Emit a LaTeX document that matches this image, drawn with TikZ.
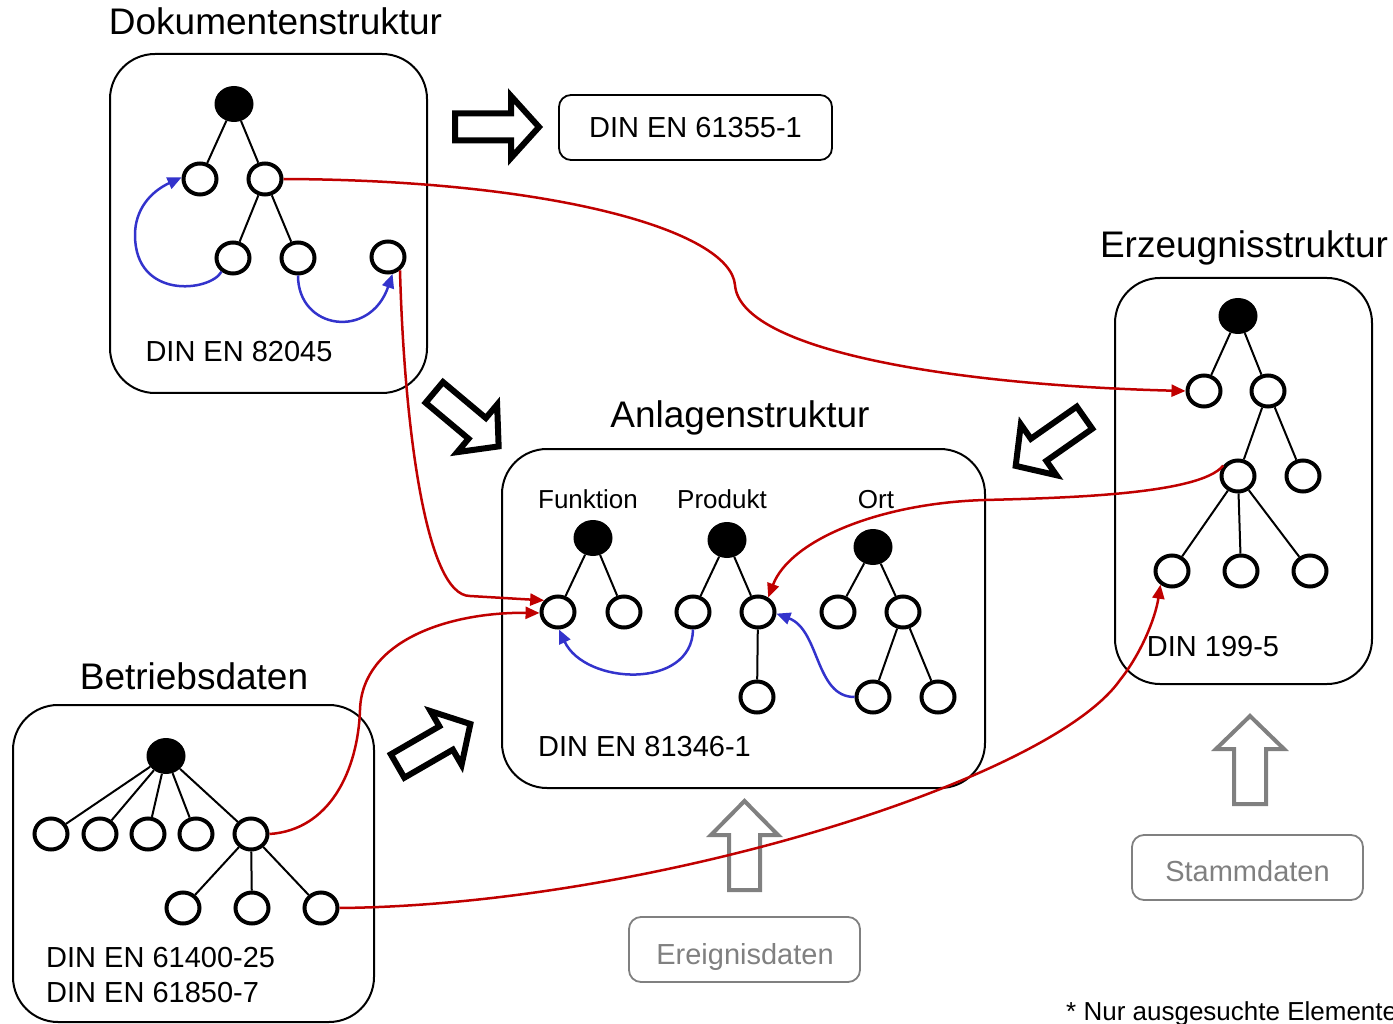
\documentclass[tikz,border=0pt]{standalone}
\usepackage{fontspec}
\setmainfont{Liberation Sans}
\usetikzlibrary{shapes.geometric,arrows.meta}
\definecolor{dred}{RGB}{192,0,0}
\definecolor{dblue}{RGB}{51,51,204}
\definecolor{lgray}{RGB}{128,128,128}
\tikzset{
 onode/.style={ellipse, draw=black, line width=4pt, fill=white, minimum width=33pt, minimum height=31pt, inner sep=0pt},
 fnode/.style={ellipse, fill=black, minimum width=39pt, minimum height=36pt, inner sep=0pt},
 tedge/.style={line width=2pt, black},
 bigbox/.style={draw=black, line width=2pt, rounded corners=45pt, inner sep=0pt},
 smallbox/.style={draw=black, line width=1.8pt, rounded corners=12pt, inner sep=0pt},
 graybox/.style={draw=lgray, line width=1.8pt, rounded corners=12pt, inner sep=0pt},
 redlink/.style={dred, line width=2.5pt, -{Triangle[length=14pt,width=12pt]}},
 redline/.style={dred, line width=2.5pt},
 bluelink/.style={dblue, line width=2.5pt, -{Triangle[length=14pt,width=12pt]}},
 title/.style={font=\fontsize{37}{40}\selectfont, anchor=base, inner sep=0pt},
 lbl/.style={font=\fontsize{29}{32}\selectfont, anchor=base, inner sep=0pt},
 slbl/.style={font=\fontsize{26}{30}\selectfont, anchor=base, inner sep=0pt},
 blockarrow/.style={draw=black, fill=white, line width=6pt, line join=miter, miter limit=10},
 grayarrow/.style={draw=lgray, fill=white, line width=4pt, line join=miter, miter limit=10},
}
% style, x, y, angle, L, head length, shaft half width, head half width
\newcommand{\barrow}[8]{\draw[#1, shift={(#2,#3)}, rotate=#4] (0,-#7) -- ({#5-#6},-#7) -- ({#5-#6},-#8) -- (#5,0) -- ({#5-#6},#8) -- ({#5-#6},#7) -- (0,#7) -- cycle;}
\begin{document}
\begin{tikzpicture}[x=1pt,y=-1pt]
\useasboundingbox (0,0) rectangle (1393,1024);

% boxes
\node[bigbox, minimum width=317pt, minimum height=339pt] (dokbox) at (268.5,223.5) {};
\node[bigbox, minimum width=483pt, minimum height=339pt] (anlbox) at (743.5,618.5) {};
\node[bigbox, minimum width=257pt, minimum height=406pt] (erzbox) at (1243.5,481) {};
\node[bigbox, minimum width=361pt, minimum height=317pt] (betbox) at (193.5,863.5) {};
\node[smallbox, minimum width=273pt, minimum height=65pt] (din61355) at (695.5,127.5) {};
\node[graybox, minimum width=231pt, minimum height=65pt] (ereig) at (744.5,949.5) {};
\node[graybox, minimum width=231pt, minimum height=65pt] (stamm) at (1247.5,867.5) {};

% texts
\node[title] (tdok) at (275.5,35) {Dokumentenstruktur};
\node[title] (tanl) at (740,428) {Anlagenstruktur};
\node[title] (terz) at (1244,258) {Erzeugnisstruktur};
\node[title] (tbet) at (194,689) {Betriebsdaten};
\node[lbl] (l82045) at (239,362) {DIN EN 82045};
\node[lbl] (l81346) at (644.5,756) {DIN EN 81346-1};
\node[lbl] (l199) at (1213,656) {DIN 199-5};
\node[lbl, anchor=base west] (l61400) at (46,967) {DIN EN 61400-25};
\node[lbl, anchor=base west] (l61850) at (46,1002) {DIN EN 61850-7};
\node[lbl] (l61355) at (695.5,138) {DIN EN 61355-1};
\node[lbl, text=lgray] (lereig) at (745,964) {Ereignisdaten};
\node[lbl, text=lgray] (lstamm) at (1247.5,881) {Stammdaten};
\node[slbl] (lfun) at (588,508) {Funktion};
\node[slbl] (lpro) at (722,508) {Produkt};
\node[slbl] (lort) at (876,508) {Ort};
\node[slbl, anchor=base west] (lnote) at (1066,1020) {* Nur ausgesuchte Elemente};

% block arrows
\barrow{blockarrow}{455}{127}{0}{84}{28}{13.5}{31}
\barrow{blockarrow}{434.3}{392.4}{-40}{84}{28}{13.5}{31}
\barrow{blockarrow}{1084.5}{417.7}{-145}{84}{28}{13.5}{31}
\barrow{blockarrow}{397.6}{766}{30}{84}{28}{13.5}{31}
\barrow{grayarrow}{744.5}{890}{90}{89}{34}{15.5}{33.5}
\barrow{grayarrow}{1250}{804}{90}{88}{33}{16}{34}

% Dokumentenstruktur tree
\node[fnode] (dR) at (234,104) {};
\node[onode] (dA1) at (200,179) {};
\node[onode] (dA2) at (265,179) {};
\node[onode] (dB1) at (233,258) {};
\node[onode] (dB2) at (298,258) {};
\node[onode] (dB3) at (388,257) {};
\draw[tedge] (dR) -- (dA1);
\draw[tedge] (dR) -- (dA2);
\draw[tedge] (dA2) -- (dB1);
\draw[tedge] (dA2) -- (dB2);

% Anlagenstruktur trees
\node[fnode] (aFR) at (593,538) {};
\node[onode] (aF1) at (558,612) {};
\node[onode] (aF2) at (624,612) {};
\node[fnode] (aPR) at (727,540) {};
\node[onode] (aP1) at (693,612) {};
\node[onode] (aP2) at (758,612) {};
\node[onode] (aP3) at (757,697) {};
\node[fnode] (oR) at (873,547) {};
\node[onode] (oO1) at (838,612) {};
\node[onode] (oO2) at (903,612) {};
\node[onode] (oO3) at (873,697) {};
\node[onode] (oO4) at (938,697) {};
\draw[tedge] (aFR) -- (aF1);
\draw[tedge] (aFR) -- (aF2);
\draw[tedge] (aPR) -- (aP1);
\draw[tedge] (aPR) -- (aP2);
\draw[tedge] (aP2) -- (aP3);
\draw[tedge] (oR) -- (oO1);
\draw[tedge] (oR) -- (oO2);
\draw[tedge] (oO2) -- (oO3);
\draw[tedge] (oO2) -- (oO4);

% Erzeugnisstruktur tree
\node[fnode] (eR) at (1238,316) {};
\node[onode] (eE1) at (1204,391) {};
\node[onode] (eE2) at (1268,391) {};
\node[onode] (eE3) at (1238,476) {};
\node[onode] (eE4) at (1303,476) {};
\node[onode] (eE5) at (1172,571) {};
\node[onode] (eE6) at (1241,571) {};
\node[onode] (eE7) at (1310,571) {};
\draw[tedge] (eR) -- (eE1);
\draw[tedge] (eR) -- (eE2);
\draw[tedge] (eE2) -- (eE3);
\draw[tedge] (eE2) -- (eE4);
\draw[tedge] (eE3) -- (eE5);
\draw[tedge] (eE3) -- (eE6);
\draw[tedge] (eE3) -- (eE7);

% Betriebsdaten tree
\node[fnode] (bR) at (166,756) {};
\node[onode] (bL1) at (51,834) {};
\node[onode] (bL2) at (100,834) {};
\node[onode] (bL3) at (148,834) {};
\node[onode] (bL4) at (196,834) {};
\node[onode] (bL5) at (251,834) {};
\node[onode] (bM1) at (183,908) {};
\node[onode] (bM2) at (252,908) {};
\node[onode] (bM3) at (321,908) {};
\foreach \n in {bL1,bL2,bL3,bL4,bL5} \draw[tedge] (bR) -- (\n);
\foreach \n in {bM1,bM2,bM3} \draw[tedge] (bL5) -- (\n);

% waypoints
\coordinate (r1m) at (735,285);
\coordinate (r2m) at (470,596);
\coordinate (r3m) at (360,710);
\coordinate (r4m) at (985,500);
\coordinate (r5m) at (1120,680);
\coordinate (b1m) at (135,235);

% red links
\draw[redlink] (dA2.east) .. controls (550,180) and (730,230) .. (r1m) .. controls (740,350) and (950,385) .. (eE1.west);
\draw[redlink] (dB3.-48) .. controls (404,420) and (425,596) .. (r2m) -- (aF1.140);
\draw[redlink] (bL5.east) .. controls (330,830) and (358,770) .. (r3m) .. controls (362,640) and (450,612) .. (aF1.183);
\draw[redlink] (eE3.145) .. controls (1200,495) and (1060,498) .. (r4m) .. controls (880,503) and (790,540) .. (aP2.55);
\draw[redlink] (bM3.east) .. controls (650,905) and (1050,780) .. (r5m) .. controls (1140,655) and (1155,620) .. (eE5.-130);

% blue links
\draw[bluelink] (dB1.-130) .. controls (210,292) and (135,300) .. (b1m) .. controls (135,210) and (150,192) .. (dA1.175);
\draw[bluelink] (dB2.-90) .. controls (298,330) and (370,340) .. (dB3.-75);
\draw[bluelink] (aP1.-90) .. controls (692,690) and (585,685) .. (aF1.-87);
\draw[bluelink] (oO3.180) .. controls (815,697) and (820,630) .. (aP2.-5);
\end{tikzpicture}
\end{document}
